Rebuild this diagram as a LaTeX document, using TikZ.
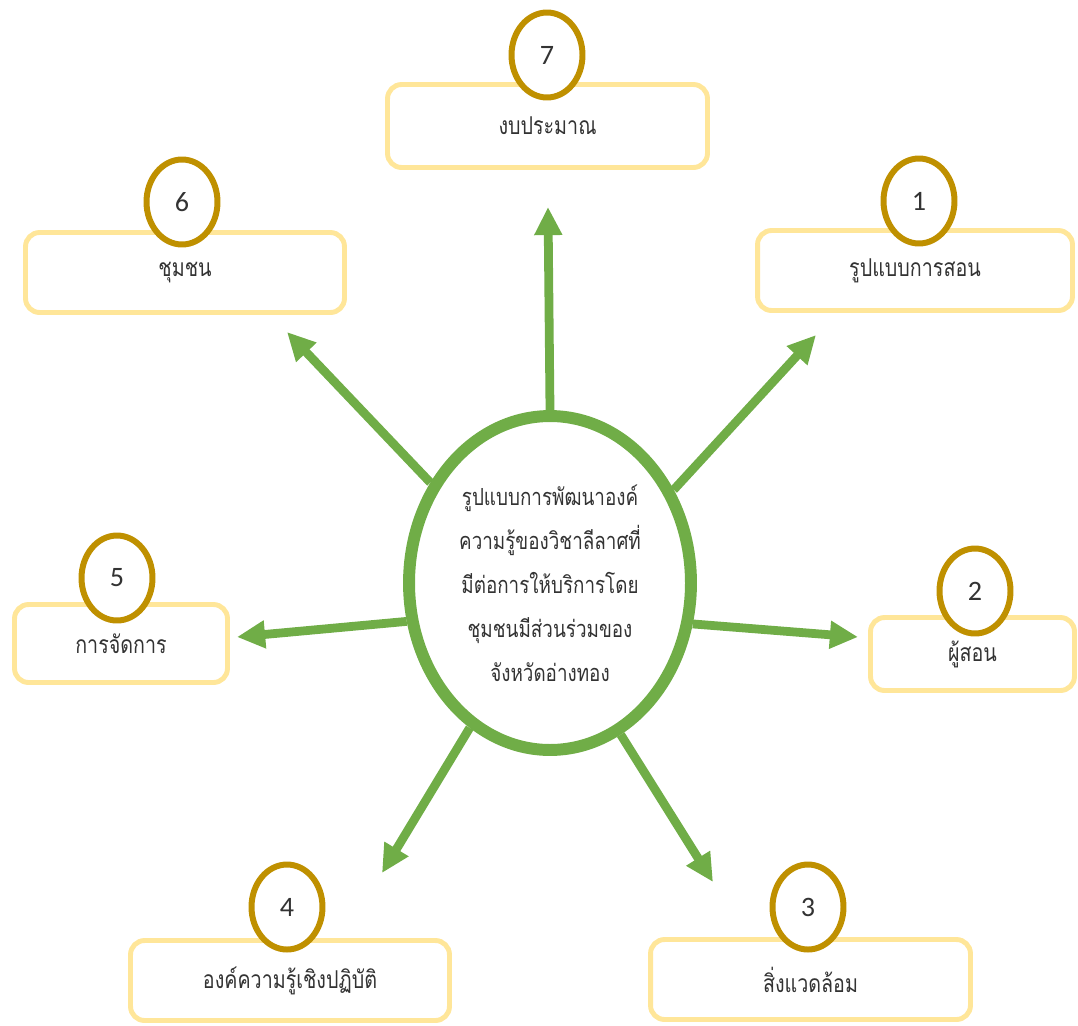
\documentclass[tikz,border=0pt]{standalone}
\usepackage{fontspec}
\newfontfamily\thaifont[Script=Thai, FakeStretch=0.8]{Loma}
\newfontfamily\numfont{Carlito}
\usetikzlibrary{shapes.geometric, arrows.meta, positioning}
\definecolor{ringgreen}{RGB}{112,173,71}
\definecolor{boxgold}{RGB}{255,230,153}
\definecolor{darkgold}{RGB}{191,144,0}

\begin{document}
\begin{tikzpicture}[x=0.02cm, y=-0.02cm,
    topic/.style={draw=boxgold, line width=2.8pt, rounded corners=8pt, fill=white, inner sep=0pt,
        minimum height=1.6cm, font=\thaifont\fontsize{14}{18}\selectfont, text=black!80},
    badge/.style={ellipse, draw=darkgold, line width=3.4pt, fill=white, inner sep=0pt,
        minimum width=1.42cm, minimum height=1.7cm, font=\numfont\fontsize{16}{18}\selectfont, text=black!80},
    spoke/.style={ringgreen, line width=5pt, -{Triangle[width=15pt, length=16pt]}}]
    \useasboundingbox (0,0) rectangle (1078,1025);

    % Hub
    \node[ellipse, draw=ringgreen, line width=6.8pt, minimum width=5.64cm, minimum height=6.68cm,
        inner sep=0pt, align=center, text=black!80, font=\thaifont\fontsize{13.4}{25}\selectfont]
        (hub) at (550,583) {รูปแบบการพัฒนาองค์\\ความรู้ของวิชาลีลาศที่\\มีต่อการให้บริการโดย\\ชุมชนมีส่วนร่วมของ\\จังหวัดอ่างทอง};

    % Arrow tips
    \coordinate (tip7) at (548,207);
    \coordinate (tip6) at (287,332);
    \coordinate (tip1) at (816,335);
    \coordinate (tip5) at (237,637);
    \coordinate (tip2) at (858,637);
    \coordinate (tip4) at (382,873);
    \coordinate (tip3) at (713,882);

    % Spokes
    \draw[spoke] (hub.90) -- (tip7);
    \draw[spoke] (hub.140) -- (tip6);
    \draw[spoke] (hub.37) -- (tip1);
    \draw[spoke] (hub.195) -- (tip5);
    \draw[spoke] (hub.344) -- (tip2);
    \draw[spoke] (hub.241) -- (tip4);
    \draw[spoke] (hub.295) -- (tip3);

    % Topic boxes
    \node[topic, minimum width=6.4cm, minimum height=1.66cm] (budget) at (547.5,126) {งบประมาณ};
    \node[topic, minimum width=6.38cm] (community) at (185,272.5) {ชุมชน};
    \node[topic, minimum width=6.3cm] (teaching) at (915,270.5) {รูปแบบการสอน};
    \node[topic, minimum width=4.26cm, minimum height=1.56cm] (manage) at (121,643.5) {การจัดการ};
    \node[topic, minimum width=4.08cm, minimum height=1.46cm] (teacher) at (972.5,654) {ผู้สอน};
    \node[topic, minimum width=6.38cm] (practice) at (290,980.5) {องค์ความรู้เชิงปฏิบัติ};
    \node[topic, minimum width=6.4cm] (environ) at (810.5,979.5) {สิ่งแวดล้อม};

    % Number badges
    \node[badge] (n7) at (547,55) {7};
    \node[badge] (n6) at (182,202) {6};
    \node[badge] (n1) at (919,201) {1};
    \node[badge] (n5) at (117,578) {5};
    \node[badge] (n2) at (975,591) {2};
    \node[badge] (n4) at (287,907) {4};
    \node[badge] (n3) at (808,907) {3};
\end{tikzpicture}
\end{document}
